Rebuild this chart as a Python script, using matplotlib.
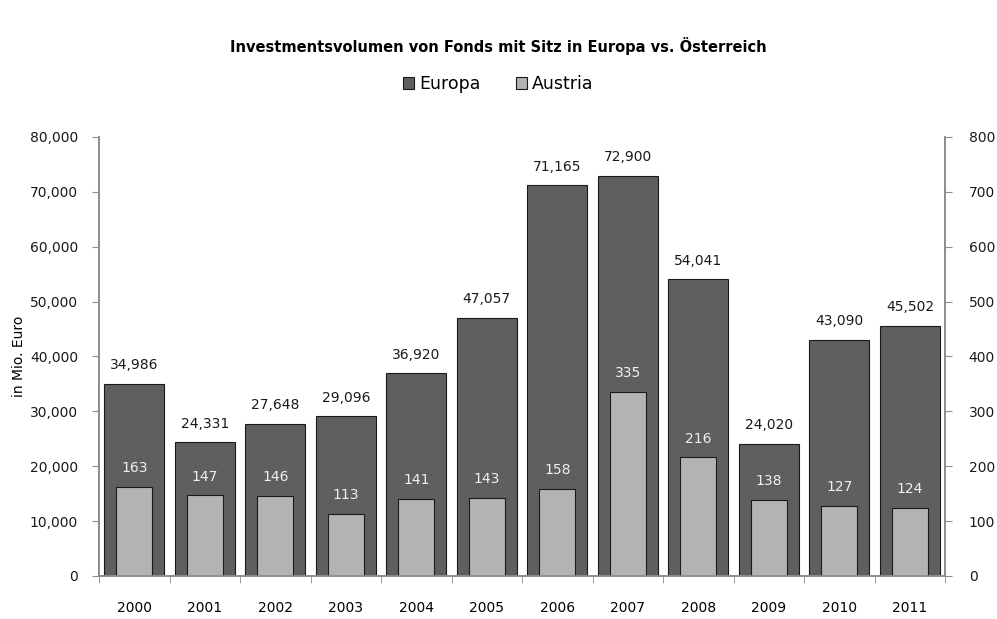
import matplotlib.pyplot as plt
import numpy as np

years = ['2000', '2001', '2002', '2003', '2004', '2005',
         '2006', '2007', '2008', '2009', '2010', '2011']
europa = [34986, 24331, 27648, 29096, 36920, 47057,
          71165, 72900, 54041, 24020, 43090, 45502]
austria = [163, 147, 146, 113, 141, 143, 158, 335, 216, 138, 127, 124]

plt.rcParams['font.family'] = ['DejaVu Sans']
plt.rcParams['font.size'] = 10

fig = plt.figure(figsize=(9.97, 6.19), dpi=100)
ax = fig.add_axes([0.0993, 0.0695, 0.8487, 0.7092])
ax2 = ax.twinx()

x = np.arange(len(years))
b1 = ax.bar(x, europa, width=0.85, color='#5f5f5f', edgecolor='#1a1a1a',
            linewidth=0.8, label='Europa', zorder=2)
b2 = ax2.bar(x, austria, width=0.51, color='#b3b3b3', edgecolor='#1a1a1a',
             linewidth=0.8, label='Austria', zorder=2)

for xi, v in zip(x, europa):
    ax.annotate(f'{v:,}', (xi, v), xytext=(0, 8.5), textcoords='offset points',
                ha='center', va='bottom', color='#1a1a1a')
for xi, v in zip(x, austria):
    ax2.annotate(f'{v}', (xi, v), xytext=(0, 8.5), textcoords='offset points',
                 ha='center', va='bottom', color='#f0f0f0')

ax.set_xlim(-0.5, 11.5)
ax.set_ylim(0, 80000)
ax2.set_ylim(0, 800)
ax.set_yticks(np.arange(0, 80001, 10000))
ax.set_yticklabels([f'{v:,}' for v in range(0, 80001, 10000)])
ax2.set_yticks(np.arange(0, 801, 100))

ax.set_xticks(x)
ax.set_xticklabels(years)
ax.set_xticks(np.arange(-0.5, 12, 1), minor=True)
ax.tick_params(axis='x', which='major', length=0, pad=18)
ax.tick_params(axis='x', which='minor', length=5, color='#8c8c8c')
ax.tick_params(axis='y', length=5, color='#8c8c8c', colors='#1a1a1a', pad=10)
ax2.tick_params(axis='y', length=5, color='#8c8c8c', colors='#1a1a1a', pad=12)

ax.set_ylabel('in Mio. Euro', labelpad=3)

for a in (ax, ax2):
    a.spines['top'].set_visible(False)
    for s in ('left', 'right', 'bottom'):
        a.spines[s].set_color('#8c8c8c')
        a.spines[s].set_linewidth(1.2)

fig.text(0.5, 0.925, 'Investmentsvolumen von Fonds mit Sitz in Europa vs. Österreich',
         ha='center', va='center', fontweight='bold', fontsize=10.5)
fig.legend(handles=[b1, b2], labels=['Europa', 'Austria'], loc='center',
           bbox_to_anchor=(0.5, 0.864), ncol=2, frameon=False, fontsize=12.5,
           handlelength=0.65, handleheight=0.65, columnspacing=2.0, handletextpad=0.3)

fig.savefig('out.png', dpi=100)
